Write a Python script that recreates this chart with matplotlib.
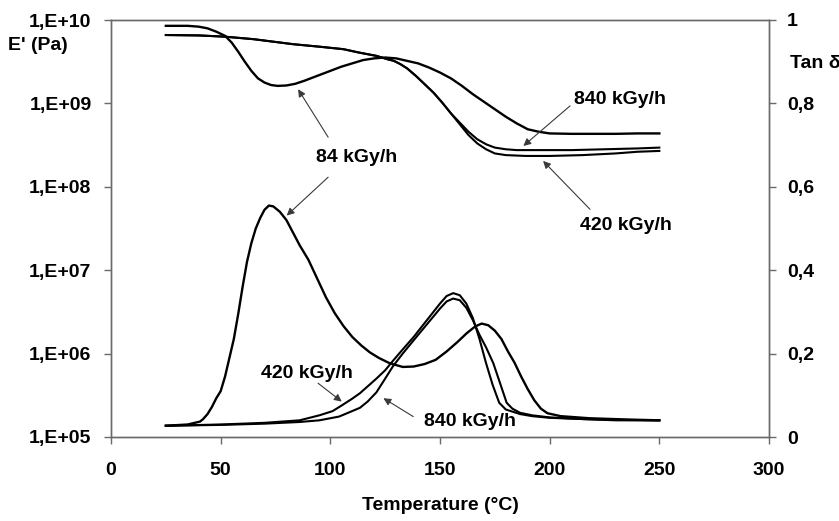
import numpy as np
import matplotlib
matplotlib.use('Agg')
import matplotlib.pyplot as plt

plt.rcParams['font.family'] = ['Liberation Sans', 'DejaVu Sans']
plt.rcParams['font.weight'] = 'bold'

# E' (log10 Pa)
T_E84 = [25, 30, 35, 40, 44, 48, 52, 55, 58, 61, 64, 67, 70, 73, 76, 80, 84, 88, 92, 96,
         100, 105, 110, 115, 120, 125, 130, 135, 140, 145, 150, 155, 160, 165, 170, 175,
         180, 185, 190, 195, 200, 210, 220, 230, 240, 250]
logE_84 = [9.93, 9.93, 9.93, 9.92, 9.90, 9.86, 9.81, 9.73, 9.62, 9.50, 9.39, 9.30, 9.25,
           9.22, 9.21, 9.215, 9.235, 9.27, 9.31, 9.35, 9.39, 9.44, 9.48, 9.52, 9.54, 9.55,
           9.54, 9.51, 9.48, 9.43, 9.37, 9.30, 9.21, 9.11, 9.02, 8.93, 8.84, 8.76, 8.69,
           8.66, 8.64, 8.635, 8.635, 8.635, 8.64, 8.64]

T_E420 = [25, 40, 52, 65, 83, 95, 106, 113, 121, 126, 129, 132, 135, 139, 143, 147, 151,
          155, 159, 163, 167, 171, 175, 180, 189, 200, 215, 230, 240, 250]
logE_420 = [9.82, 9.815, 9.80, 9.77, 9.71, 9.68, 9.65, 9.61, 9.57, 9.53, 9.51, 9.47, 9.42,
            9.33, 9.23, 9.13, 9.01, 8.88, 8.75, 8.62, 8.52, 8.45, 8.40, 8.38, 8.37, 8.37,
            8.38, 8.40, 8.42, 8.43]

T_E840 = [25, 40, 52, 65, 83, 95, 106, 113, 121, 126, 129, 132, 135, 139, 143, 147, 151,
          155, 159, 163, 167, 171, 175, 180, 185, 195, 210, 225, 240, 250]
logE_840 = [9.82, 9.815, 9.80, 9.77, 9.71, 9.68, 9.65, 9.61, 9.57, 9.53, 9.51, 9.47, 9.42,
            9.33, 9.23, 9.13, 9.01, 8.88, 8.77, 8.66, 8.57, 8.51, 8.47, 8.45, 8.44, 8.44,
            8.44, 8.45, 8.46, 8.47]

# Tan delta
T_t84 = [25, 35, 40.6, 42, 44, 46, 48, 50, 52, 54, 56, 58, 60, 62, 64, 66, 68, 70, 72, 74,
         77, 80, 83, 86, 90, 94, 98, 102, 106, 110, 114, 118, 122, 127, 133, 138, 143, 148,
         153, 158, 162, 166, 169, 172, 175, 178, 181, 184, 187, 190, 193, 196, 199, 205,
         218, 235, 250]
tan_84 = [0.027, 0.030, 0.037, 0.043, 0.055, 0.072, 0.093, 0.11, 0.145, 0.19, 0.235, 0.295,
          0.36, 0.42, 0.465, 0.50, 0.525, 0.545, 0.555, 0.553, 0.54, 0.52, 0.49, 0.46,
          0.425, 0.38, 0.335, 0.297, 0.266, 0.24, 0.22, 0.203, 0.19, 0.177, 0.168, 0.169,
          0.175, 0.185, 0.205, 0.228, 0.248, 0.265, 0.272, 0.268, 0.255, 0.235, 0.205,
          0.178, 0.145, 0.115, 0.088, 0.068, 0.057, 0.05, 0.045, 0.042, 0.040]

T_t420 = [25, 50, 70, 86, 95, 101, 105, 110, 113.5, 121, 125, 128.6, 133, 138, 144, 150,
          153, 156, 159, 162, 165, 168, 171, 174, 177, 180, 186.5, 192, 200, 215, 230, 250]
tan_420 = [0.027, 0.030, 0.034, 0.040, 0.052, 0.062, 0.075, 0.092, 0.105, 0.14, 0.16,
           0.183, 0.21, 0.24, 0.28, 0.32, 0.338, 0.345, 0.34, 0.32, 0.285, 0.235, 0.177,
           0.125, 0.082, 0.066, 0.055, 0.05, 0.046, 0.043, 0.040, 0.040]

T_t840 = [25, 50, 70, 86, 95, 104, 113.5, 117, 121, 125, 128.6, 133, 138, 144, 150, 153,
          156, 159, 162, 165, 168, 171, 174.3, 177, 180.4, 183, 186.5, 192, 200, 215, 230, 250]
tan_840 = [0.027, 0.029, 0.032, 0.036, 0.040, 0.049, 0.07, 0.085, 0.107, 0.14, 0.17,
           0.2, 0.232, 0.27, 0.308, 0.325, 0.332, 0.328, 0.31, 0.28, 0.245, 0.215,
           0.177, 0.135, 0.082, 0.068, 0.058, 0.052, 0.047, 0.043, 0.041, 0.040]

fs = 14
axcol = '#6a6a6a'

fig = plt.figure(figsize=(8.39, 5.21), dpi=100)
ax = fig.add_axes([111/839, 1-437/521, (769-111)/839, (437-20)/521])
ax2 = ax.twinx()

ax.plot(T_E84, 10**np.array(logE_84), 'k', lw=1.7)
ax.plot(T_E420, 10**np.array(logE_420), 'k', lw=1.5)
ax.plot(T_E840, 10**np.array(logE_840), 'k', lw=1.5)
ax2.plot(T_t84, tan_84, 'k', lw=1.7)
ax2.plot(T_t420, tan_420, 'k', lw=1.5)
ax2.plot(T_t840, tan_840, 'k', lw=1.5)

ax.set_xlim(0, 300)
ax.set_yscale('log')
ax.set_ylim(1e5, 1e10)
ax2.set_ylim(0, 1)

ax.set_xticks([0, 50, 100, 150, 200, 250, 300])
ax.set_yticks([1e5, 1e6, 1e7, 1e8, 1e9, 1e10])
ax.set_yticklabels(['1,E+05', '1,E+06', '1,E+07', '1,E+08', '1,E+09', '1,E+10'])
ax.minorticks_off()
ax2.set_yticks([0, 0.2, 0.4, 0.6, 0.8, 1])
ax2.set_yticklabels(['0', '0,2', '0,4', '0,6', '0,8', '1'])

for a in (ax, ax2):
    for s in a.spines.values():
        s.set_color(axcol)
        s.set_linewidth(1)
ax.tick_params(axis='x', direction='out', length=5, width=1, color=axcol, pad=13, labelsize=fs)
ax.tick_params(axis='y', direction='out', length=5, width=1, color=axcol, pad=9, labelsize=fs)
ax2.tick_params(axis='y', direction='out', length=5, width=1, color=axcol, pad=8, labelsize=fs)

# annotations (text + arrows) in tan delta coordinates
arr = dict(arrowstyle='-|>', color='#3a3a3a', lw=0.8, mutation_scale=11, shrinkA=0, shrinkB=0)
ax2.text(112, 0.67, '84 kGy/h', ha='center', va='center', fontsize=fs, fontweight='bold')
ax2.annotate('', xy=(85.3, 0.834), xytext=(99, 0.719), arrowprops=arr)
ax2.annotate('', xy=(80.1, 0.531), xytext=(99, 0.623), arrowprops=arr)
ax2.text(232, 0.81, '840 kGy/h', ha='center', va='center', fontsize=fs, fontweight='bold')
ax2.annotate('', xy=(188, 0.698), xytext=(209.3, 0.794), arrowprops=arr)
ax2.text(235, 0.506, '420 kGy/h', ha='center', va='center', fontsize=fs, fontweight='bold')
ax2.annotate('', xy=(197, 0.662), xytext=(218.4, 0.546), arrowprops=arr)
ax2.text(89.2, 0.153, '420 kGy/h', ha='center', va='center', fontsize=fs, fontweight='bold')
ax2.annotate('', xy=(105.2, 0.085), xytext=(94.4, 0.129), arrowprops=arr)
ax2.text(163.7, 0.037, '840 kGy/h', ha='center', va='center', fontsize=fs, fontweight='bold')
ax2.annotate('', xy=(124.2, 0.093), xytext=(137.8, 0.049), arrowprops=arr)

fig.text(8/839, 1-45/521, "E' (Pa)", ha='left', va='center', fontsize=fs, fontweight='bold')
fig.text(790/839, 1-63/521, 'Tan δ', ha='left', va='center', fontsize=fs, fontweight='bold')
fig.text(440/839, 1-505/521, 'Temperature (°C)', ha='center', va='center', fontsize=fs, fontweight='bold')

fig.savefig('out.png', dpi=100)
